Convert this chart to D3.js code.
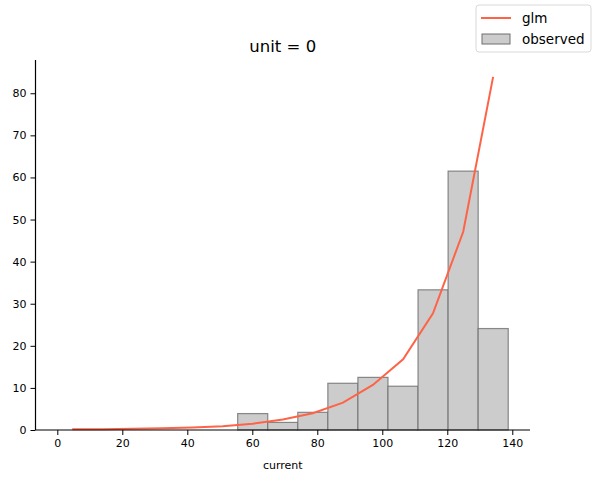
<!DOCTYPE html>
<html lang="en">
<head>
  <meta charset="UTF-8">
  <title>unit = 0</title>
  <style>
    body { margin: 0; background: #fff; }
    text { font-family: "DejaVu Sans", sans-serif; fill: #000; }
  </style>
</head>
<body>
  <svg id="chart" width="597" height="481"></svg>

  <script src="https://cdn.jsdelivr.net/npm/d3@7/dist/d3.min.js"></script>
  <script>
    // histogram bins (left edge, right edge) and heights
    var binStart = [55.5, 64.75, 74.0, 83.25, 92.5, 101.75, 111.0, 120.25, 129.5];
    var binEnd = [64.75, 74.0, 83.25, 92.5, 101.75, 111.0, 120.25, 129.5, 138.75];
    var observed = [3.9, 1.8, 4.2, 11.1, 12.5, 10.4, 33.3, 61.5, 24.1];

    // glm fitted curve
    var glmX = [4.6, 13.9, 23.1, 32.4, 41.6, 50.9, 60.1, 69.4, 78.6, 87.9, 97.1, 106.4, 115.6, 124.9, 134.1];
    var glmY = [0.15, 0.2, 0.27, 0.4, 0.6, 0.9, 1.5, 2.5, 4.0, 6.5, 10.7, 16.8, 27.7, 47.1, 83.9];

    var xTicks = [0, 20, 40, 60, 80, 100, 120, 140];
    var yTicks = [0, 10, 20, 30, 40, 50, 60, 70, 80];

    var svg = d3.select("#chart"),
      plotLeft = 35.5, plotRight = 530, plotTop = 60, plotBottom = 430;

    var x = d3.scaleLinear().domain([-6.71, 145.45]).range([plotLeft, plotRight]);
    var y = d3.scaleLinear().domain([0, 87.9]).range([plotBottom, plotTop]);

    var bars = binStart.map(function(s, i) {
      return { x0: s, x1: binEnd[i], v: observed[i] };
    });

    svg.append("g").selectAll("rect")
      .data(bars)
      .enter().append("rect")
      .attr("x", function(d) { return x(d.x0); })
      .attr("y", function(d) { return y(d.v); })
      .attr("width", function(d) { return x(d.x1) - x(d.x0); })
      .attr("height", function(d) { return y(0) - y(d.v); })
      .attr("fill", "#cccccc")
      .attr("stroke", "#6e6e6e")
      .attr("stroke-opacity", 0.8)
      .attr("stroke-width", 1.2);

    var line = d3.line()
      .x(function(d, i) { return x(glmX[i]); })
      .y(function(d) { return y(d); });

    svg.append("path")
      .datum(glmY)
      .attr("d", line)
      .attr("fill", "none")
      .attr("stroke", "#ff6347")
      .attr("stroke-width", 2);

    // axes
    var xAxis = svg.append("g")
      .attr("transform", "translate(0," + plotBottom + ")")
      .call(d3.axisBottom(x).tickValues(xTicks).tickSize(5).tickPadding(4));
    var yAxis = svg.append("g")
      .attr("transform", "translate(" + plotLeft + ",0)")
      .call(d3.axisLeft(y).tickValues(yTicks).tickSize(5).tickPadding(4));

    [xAxis, yAxis].forEach(function(a) {
      a.select(".domain").remove();
      a.selectAll("line").attr("stroke", "#000").attr("stroke-width", 1);
      a.selectAll("text").style("font-family", "DejaVu Sans").style("font-size", "11px").attr("fill", "#000");
    });

    // spines
    svg.append("line").attr("x1", plotLeft).attr("x2", plotRight).attr("y1", plotBottom).attr("y2", plotBottom)
      .attr("stroke", "#000").attr("stroke-width", 1.2);
    svg.append("line").attr("x1", plotLeft).attr("x2", plotLeft).attr("y1", plotTop).attr("y2", plotBottom)
      .attr("stroke", "#000").attr("stroke-width", 1.2);

    svg.append("text")
      .attr("x", (plotLeft + plotRight) / 2).attr("y", 52)
      .attr("text-anchor", "middle")
      .style("font-size", "16.5px")
      .text("unit = 0");

    svg.append("text")
      .attr("x", (plotLeft + plotRight) / 2).attr("y", 469)
      .attr("text-anchor", "middle")
      .style("font-size", "11px")
      .text("current");

    // legend
    var lg = svg.append("g").attr("transform", "translate(476,5)");
    lg.append("rect").attr("width", 115).attr("height", 47).attr("rx", 3)
      .attr("fill", "#fff").attr("fill-opacity", 0.8).attr("stroke", "#d9d9d9");
    lg.append("line").attr("x1", 5).attr("x2", 35).attr("y1", 13).attr("y2", 13)
      .attr("stroke", "#ff6347").attr("stroke-width", 2);
    lg.append("text").attr("x", 46).attr("y", 18).style("font-size", "13.5px").text("glm");
    lg.append("rect").attr("x", 6).attr("y", 29).attr("width", 28).attr("height", 10)
      .attr("fill", "#cccccc").attr("stroke", "#6e6e6e").attr("stroke-width", 1);
    lg.append("text").attr("x", 46).attr("y", 39).style("font-size", "13.5px").text("observed");
  </script>
</body>
</html>
